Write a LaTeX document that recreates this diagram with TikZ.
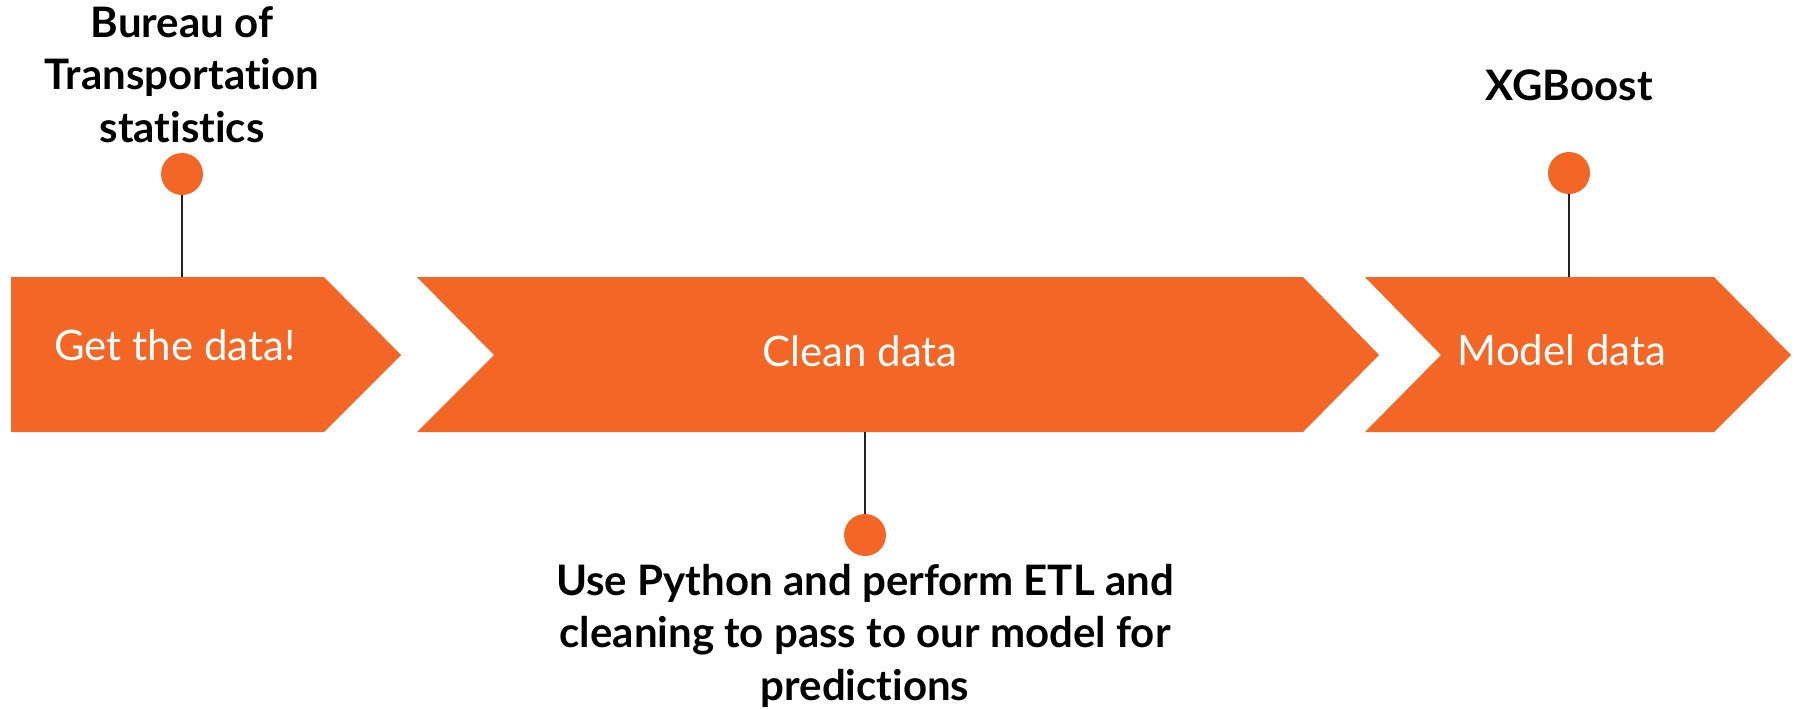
\documentclass[tikz,border=0pt]{standalone}
\usepackage{fontspec}
\setmainfont{Lato}[Ligatures=NoCommon]
\definecolor{orng}{HTML}{F36625}
\definecolor{stem}{HTML}{222222}
\begin{document}
\begin{tikzpicture}[x=1pt,y=-1pt,
  band/.style={fill=orng,draw=none},
  bandtext/.style={text=white,font=\fontsize{42}{50}\selectfont,anchor=base,inner sep=0pt},
  label/.style={text=black,font=\fontsize{42}{52.5}\selectfont\bfseries,align=center,anchor=base,inner sep=0pt},
  dot/.style={circle,fill=orng,draw=none,minimum size=42pt,inner sep=0pt},
  stemline/.style={draw=stem,line width=2pt}]
\useasboundingbox (0,0) rectangle (1797,709);
% chevrons
\path[band] (11,277) -- (324,277) -- (401,355) -- (324,432) -- (11,432) -- cycle;
\path[band] (417,277) -- (1303,277) -- (1379,355) -- (1303,432) -- (417,432) -- (494,355) -- cycle;
\path[band] (1365,277) -- (1714,277) -- (1791,355) -- (1714,432) -- (1365,432) -- (1441,355) -- cycle;
% band texts
\node[bandtext] (t1) at (175,360) {Get the data!};
\node[bandtext] (t2) at (860,366) {Clean data};
\node[bandtext] (t3) at (1562,365) {Model data};
% anchors on band edges
\coordinate (b1) at (182,277);
\coordinate (b2) at (865,432);
\coordinate (b3) at (1569,277);
% dots
\node[dot] (d1) at (182,174) {};
\node[dot] (d3) at (1569,173) {};
\node[dot] (d2) at (865,535) {};
% stems
\draw[stemline] (d1.south) -- (b1);
\draw[stemline] (d3.south) -- (b3);
\draw[stemline] (b2) -- (d2.north);
% labels (base anchor = last line's baseline)
\node[label] (l1) at (182,142) {Bureau of\\Transportation\\statistics};
\node[label] (l3) at (1569,100) {XGBoost};
\node[label] (l2) at (865,700) {Use Python and perform ETL and\\cleaning to pass to our model for\\predictions};
\end{tikzpicture}
\end{document}
